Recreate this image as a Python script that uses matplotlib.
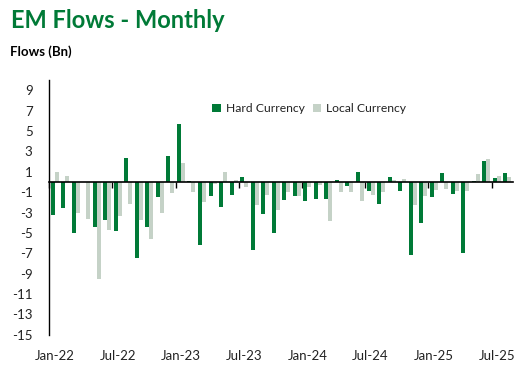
import matplotlib
matplotlib.use("Agg")
import matplotlib.pyplot as plt
import numpy as np
import pandas as pd

plt.rcParams['font.family'] = ['Lato', 'DejaVu Sans']

months = pd.date_range('2022-01-01', periods=44, freq='MS')
month_labels = [d.strftime('%b-%y') for d in months]

hard_currency = [-3.2, -2.6, -5.0, 0.0, -4.4, -3.7, -4.8, 2.4, -7.5, -4.4, -1.5, 2.6,
                 5.7, 0.1, -6.2, -1.4, -2.5, -1.3, 0.5, -6.7, -3.1, -5.0, -1.8, -1.4,
                 -1.9, -1.7, -1.7, 0.2, -0.4, 1.0, -0.85, -2.2, 0.5, -0.85, -7.2, -4.0,
                 -1.5, 0.9, -1.15, -6.95, 0.1, 2.1, 0.4, 0.9]
local_currency = [1.0, 0.6, -3.0, -3.6, -9.5, -4.7, -3.3, -2.2, -3.7, -5.6, -3.0, -1.1,
                  1.9, -1.0, -2.0, -0.2, 1.0, 0.2, -0.5, -2.3, -1.3, -2.8, -1.0, -1.4,
                  -0.5, -0.3, -3.8, -1.0, -1.0, -1.9, -1.25, -1.0, 0.2, 0.3, -2.3, -1.4,
                  -0.75, -0.65, -0.85, -0.85, 0.8, 2.3, 0.6, 0.5]
y_ticks = [9, 7, 5, 3, 1, -1, -3, -5, -7, -9, -11, -13, -15]

GREEN = '#007A37'
LIGHT = '#C5D2C7'

fig = plt.figure(figsize=(5.26, 3.77), dpi=100)
ax = fig.add_axes([0.0937, 0.1122, 0.881, 0.6751])

x = np.arange(len(months))
w = 0.38
ax.bar(x - w / 2, hard_currency, width=w, color=GREEN, label='Hard Currency', zorder=2)
ax.bar(x + w / 2, local_currency, width=w, color=LIGHT, label='Local Currency', zorder=2)

ax.set_xlim(-0.5, len(months) - 0.5)
ax.set_ylim(-15, 10)

for s in ['top', 'right']:
    ax.spines[s].set_visible(False)
ax.spines['left'].set_color('black')
ax.spines['left'].set_linewidth(1.0)
ax.spines['bottom'].set_position(('data', 0))
ax.spines['bottom'].set_color('black')
ax.spines['bottom'].set_linewidth(1.2)
ax.spines['bottom'].set_zorder(3)

ax.set_yticks(y_ticks)
ax.set_yticklabels([str(v) for v in y_ticks])
ax.tick_params(axis='y', length=0, pad=12, labelsize=9.5, labelcolor='#222222')

label_idx = list(range(0, len(months), 6))
ax.set_xticks([i - 0.5 for i in label_idx])
ax.set_xticklabels([])
ax.tick_params(axis='x', length=4, width=1, direction='out', color='black')

sec = ax.secondary_xaxis(0)
sec.set_xticks(label_idx)
sec.set_xticklabels([month_labels[i] for i in label_idx])
sec.tick_params(length=0, pad=11, labelsize=9.5, labelcolor='#222222')
sec.spines['bottom'].set_visible(False)

fig.text(0.021, 0.945, 'EM Flows - Monthly', color=GREEN, fontsize=17,
         fontweight='bold', ha='left', va='center')
fig.text(0.019, 0.862, 'Flows (Bn)', color='black', fontsize=9.5,
         fontweight='bold', ha='left', va='center')

fig.legend(loc='center', bbox_to_anchor=(0.588, 0.711), ncol=2, frameon=False,
           handlelength=0.7, handleheight=0.7, handletextpad=0.4, columnspacing=0.7,
           fontsize=8.7, labelcolor='#222222')

fig.savefig('out.png', dpi=100)
